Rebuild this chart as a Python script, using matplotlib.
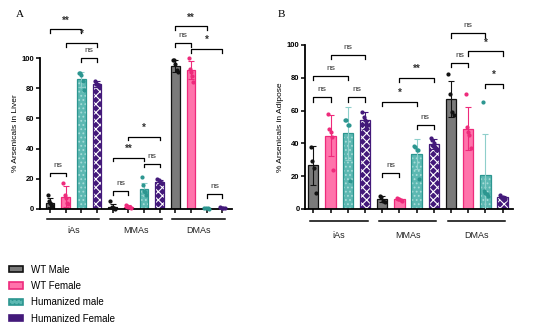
import numpy as np
import matplotlib
matplotlib.use('Agg')
import matplotlib.pyplot as plt
from matplotlib.patches import Patch
import matplotlib.transforms as mtransforms

plt.rcParams['font.family'] = ['Liberation Sans', 'DejaVu Sans']
plt.rcParams['hatch.linewidth'] = 0.8

groups = ['iAs', 'MMAs', 'DMAs']
series = ['WT Male', 'WT Female', 'Humanized male', 'Humanized Female']

# liver (panel A), order: iAs x4, MMAs x4, DMAs x4
liver_mean = [4, 8, 86, 83, 1, 1.5, 13, 18, 95, 92, 0.5, 0.5]
liver_sd = [3, 7, 5, 2, 2, 0.8, 4, 1.5, 4, 6, 0.2, 0.4]
liver_dots = [[9, 5, 4, 3, 2], [17, 9, 7, 4, 3], [90, 90, 89, 85, 79], [85, 83, 83, 82, 82],
              [5, 1, 0.5, 0.3, 0.2], [2.5, 2, 1.5, 1, 0.5], [21, 16, 12, 11, 9], [20, 19, 18, 17, 17],
              [99, 99, 96, 92, 91], [100, 93, 91, 88, 84], [0.4, 0.3, 0.3, 0.2], [1, 0.8, 0.5, 0.3]]
# brackets: (bar from, bar to, height, label)
liver_sig = [(0, 2, 119, '**'), (1, 3, 110, '*'), (2, 3, 100, 'ns'), (0, 1, 24, 'ns'),
             (4, 5, 12, 'ns'), (4, 6, 34, '**'), (6, 7, 30, 'ns'), (5, 7, 48, '*'),
             (8, 10, 121, '**'), (8, 9, 110, 'ns'), (9, 11, 106, '*'), (10, 11, 10, 'ns')]

# adipose (panel B)
adip_mean = [26.5, 44.5, 46, 54, 6.2, 5.8, 33.5, 39.5, 67, 49, 20.5, 7]
adip_sd = [12, 12.5, 16, 5, 1.8, 0.5, 9, 3, 11, 13, 25, 1]
adip_dots = [[38, 29, 25, 10], [58, 49, 47, 44, 24], [54, 54, 51, 51, 17], [59, 56, 54, 52, 51],
             [8, 7.5, 5, 4.5], [6.5, 6, 6, 5.5, 5], [38.5, 38, 36, 36, 18], [43, 42, 40, 38, 36],
             [82, 70, 59, 57], [70, 50, 47, 45, 37], [65, 11, 10, 9, 8], [8.5, 7.5, 7, 6, 6]]
adip_sig = [(0, 1, 68, 'ns'), (0, 2, 81, 'ns'), (1, 3, 94, 'ns'), (2, 3, 68, 'ns'),
            (4, 5, 22, 'ns'), (4, 6, 65, '*'), (5, 7, 80, '**'), (6, 7, 51, 'ns'),
            (8, 10, 107, 'ns'), (9, 11, 96, '*'), (8, 9, 89, 'ns'), (10, 11, 76, '*')]

face = ['#7a7a7a', '#ff73ab', '#5cb8b2', '#43197a']
edge = ['#111111', '#ee2a7b', '#2c9690', '#43197a']
hatches = [None, None, '....', 'xxxx']
hatch_col = [None, None, '#a5dcd8', '#ffffff']
err_col = ['#111111', '#ee2a7b', '#8fcfcb', '#43197a']


def draw_panel(ax, mean, sd, dots, sig, ylab, under_y, lab_y, w):
    x = np.arange(12)
    for i in range(12):
        s = i % 4
        if hatches[s] is None:
            ax.bar(x[i], mean[i], width=w, color=face[s], edgecolor=edge[s], linewidth=0.9, zorder=2)
        else:
            ax.bar(x[i], mean[i], width=w, color=face[s], edgecolor=hatch_col[s],
                   hatch=hatches[s], linewidth=0, zorder=2)
            ax.bar(x[i], mean[i], width=w, fill=False, edgecolor=edge[s], linewidth=0.9, zorder=2)
        ax.errorbar(x[i], mean[i], yerr=sd[i], color=err_col[s],
                    capsize=2, elinewidth=0.8, capthick=0.8, zorder=3)
        d = np.array(dots[i])
        off = np.linspace(-0.15, 0.15, len(d))
        ax.scatter(x[i] + off, d, s=4, color=edge[s], zorder=4, clip_on=False)
    for a, b, h, t in sig:
        ax.plot([a, a, b, b], [h - 2.5, h, h, h - 2.5], color='black', lw=0.9, clip_on=False)
        ax.text((a + b) / 2, h + 2.5, t, ha='center', va='bottom', fontsize=6 if t == 'ns' else 7,
                fontweight='normal' if t == 'ns' else 'bold', color='#333333')
    ax.set_ylim(0, 100)
    ax.set_yticks([0, 20, 40, 60, 80, 100])
    ax.set_xticks(x)
    ax.set_xticklabels([])
    ax.spines['right'].set_visible(False)
    ax.spines['top'].set_visible(False)
    ax.spines['left'].set_linewidth(1.3)
    ax.spines['bottom'].set_linewidth(1.3)
    ax.tick_params(width=1.1, length=3, labelsize=5.5, pad=1)
    for lbl in ax.get_yticklabels():
        lbl.set_fontweight('bold')
    ax.set_ylabel(ylab, fontsize=6, labelpad=2)
    trans = mtransforms.blended_transform_factory(ax.transData, ax.transAxes)
    for g in range(3):
        ax.plot([4 * g - 0.2, 4 * g + 3.15], [under_y, under_y], color='black', lw=1.1,
                transform=trans, clip_on=False)
        ax.text(4 * g + 1.5, lab_y, groups[g], ha='center', va='center', fontsize=6.5,
                transform=trans, color='#222222')


fig = plt.figure(figsize=(5.48, 3.28), dpi=100)
axA = fig.add_axes([0.073, 0.363, 0.350, 0.460])
axA.set_xlim(-0.64, 11.6)
draw_panel(axA, liver_mean, liver_sd, liver_dots, liver_sig, '% Arsenicals in Liver', -0.066, -0.14, 0.55)

axB = fig.add_axes([0.557, 0.363, 0.379, 0.500])
axB.set_xlim(-0.47, 11.6)
draw_panel(axB, adip_mean, adip_sd, adip_dots, adip_sig, '% Arsenicals in Adipose', -0.073, -0.16, 0.6)

fig.text(0.029, 0.955, 'A', fontsize=8, family='Liberation Serif', va='center')
fig.text(0.507, 0.955, 'B', fontsize=8, family='Liberation Serif', va='center')

handles = []
for s in range(4):
    handles.append(Patch(facecolor=face[s], edgecolor=edge[s], hatch=hatches[s], linewidth=1.2))
fig.legend(handles, series, loc='upper left', bbox_to_anchor=(0.01, 0.205), frameon=False,
           fontsize=7, handlelength=1.4, handleheight=0.6, labelspacing=0.65, handletextpad=0.8,
           borderaxespad=0)

fig.savefig('out.png', dpi=100)
